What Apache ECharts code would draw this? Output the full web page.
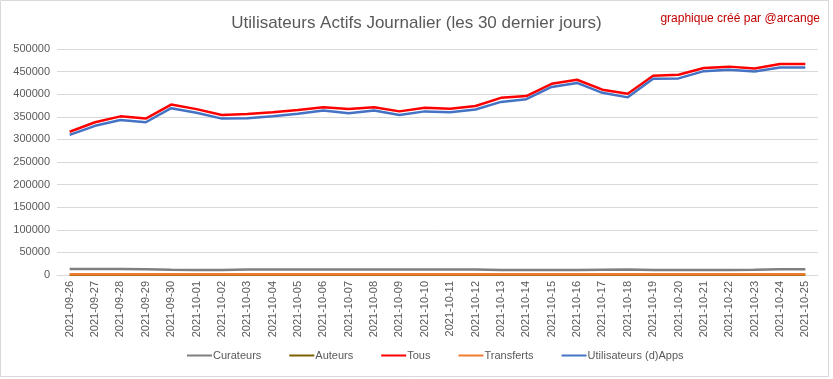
<!DOCTYPE html>
<html>
<head>
<meta charset="utf-8">
<script src="https://cdn.jsdelivr.net/npm/echarts@6/dist/echarts.min.js"></script>
<style>
html,body{margin:0;padding:0;background:#fff;}
#chart{width:833px;height:379px;}
</style>
</head>
<body>
<div id="chart"></div>
<script>
const categories = ["2021-09-26","2021-09-27","2021-09-28","2021-09-29","2021-09-30","2021-10-01","2021-10-02","2021-10-03","2021-10-04","2021-10-05","2021-10-06","2021-10-07","2021-10-08","2021-10-09","2021-10-10","2021-10-11","2021-10-12","2021-10-13","2021-10-14","2021-10-15","2021-10-16","2021-10-17","2021-10-18","2021-10-19","2021-10-20","2021-10-21","2021-10-22","2021-10-23","2021-10-24","2021-10-25"];
const curateurs = [13000,13000,13000,12500,11500,11000,11000,12000,12000,12000,12000,12000,12000,12000,12000,12000,12000,11000,11000,11000,11000,11500,12000,11000,11000,11000,11000,11500,12500,12500];
const auteurs = [800,800,800,800,800,800,800,800,800,800,800,800,800,800,800,800,800,800,800,800,800,800,800,800,800,800,800,800,800,800];
const tous = [317000,338000,351000,346000,377000,367000,354000,356000,360000,365000,371000,367000,371000,362000,370000,368000,374000,392000,396000,423000,432000,410000,401000,441000,443000,458000,461000,457000,467000,467000];
const transferts = [1500,1500,1500,1500,1500,1500,1500,1500,1500,1500,1500,1500,1500,1500,1500,1500,1500,1500,1500,1500,1500,1500,1500,1500,1500,1500,1500,1500,1500,1500];
const dapps = [310000,330000,343000,338000,369000,359000,346000,347000,351000,357000,364000,358000,364000,354000,362000,360000,366000,383000,389000,416000,425000,403000,393000,434000,435000,451000,454000,450000,459000,459000];
const yTicks = {min:0, max:500000, interval:50000};

const chart = echarts.init(document.getElementById('chart'), null, {renderer:'canvas'});
const font = '"Liberation Sans", Arial, sans-serif';
function line(name, data, color, width){
  return {name, type:'line', data, showSymbol:false, symbol:'none',
    lineStyle:{color, width}, itemStyle:{color}, animation:false, z:2};
}
chart.setOption({
  animation:false,
  backgroundColor:'#fff',
  graphic:[{type:'rect', shape:{x:0.5,y:0.5,width:828,height:376}, style:{fill:'none', stroke:'#D9D9D9', lineWidth:1}, silent:true}],
  title:[
    {text:'Utilisateurs Actifs Journalier (les 30 dernier jours)', left:'center', top:10,
     textStyle:{fontFamily:font, fontSize:17, fontWeight:'normal', color:'#595959'}},
    {text:'graphique créé par @arcange', right:8, top:8,
     textStyle:{fontFamily:font, fontSize:12, fontWeight:'normal', color:'#C00000'}}
  ],
  grid:{left:57, right:15, top:49, bottom:104, containLabel:false},
  legend:{
    bottom:13, left:182, icon:'rect', itemWidth:25, itemHeight:2, itemGap:28,
    textStyle:{fontFamily:font, fontSize:11, color:'#595959', padding:[0,0,0,-4]},
    data:['Curateurs','Auteurs','Tous','Transferts','Utilisateurs (d)Apps']
  },
  xAxis:{
    type:'category', data:categories, boundaryGap:true,
    axisLine:{lineStyle:{color:'#D9D9D9'}}, axisTick:{show:false},
    axisLabel:{rotate:90, interval:0, fontFamily:font, fontSize:11, color:'#595959', margin:6}
  },
  yAxis:{
    type:'value', min:yTicks.min, max:yTicks.max, interval:yTicks.interval,
    axisLine:{show:false}, axisTick:{show:false},
    axisLabel:{fontFamily:font, fontSize:11, color:'#595959', margin:7, formatter:v => String(v)},
    splitLine:{lineStyle:{color:'#D9D9D9'}}
  },
  series:[
    line('Curateurs', curateurs, '#7F7F7F', 2.5),
    line('Auteurs', auteurs, '#7F6000', 2.5),
    line('Tous', tous, '#FF0000', 2.5),
    line('Transferts', transferts, '#ED7D31', 2.5),
    line('Utilisateurs (d)Apps', dapps, '#4472C4', 2.5)
  ]
});
</script>
</body>
</html>
